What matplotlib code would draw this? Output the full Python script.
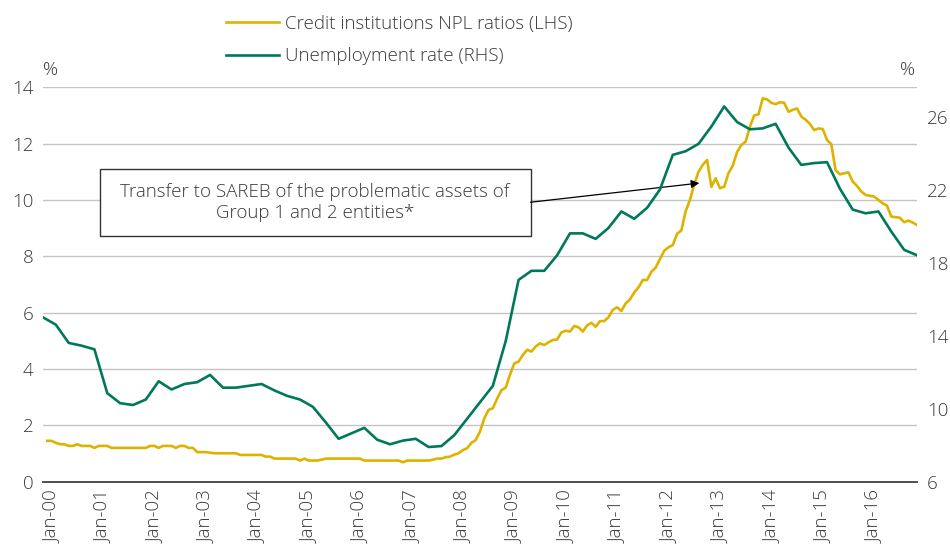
import numpy as np
import matplotlib
matplotlib.use('Agg')
import matplotlib.pyplot as plt
from matplotlib.patches import Rectangle

plt.rcParams['font.family'] = ['Open Sans', 'DejaVu Sans']
plt.rcParams['font.weight'] = 'light'

# x positions are months counted from Jan-00
year_labels = ['Jan-%02d' % y for y in range(0, 17)]

# credit institutions NPL ratio, monthly, %
npl_start = -1
npl = [
    1.45, 1.45, 1.38, 1.33, 1.33, 1.27, 1.27, 1.33, 1.27, 1.27, 1.27, 1.20,
    1.27, 1.27, 1.27, 1.20, 1.20, 1.20, 1.20, 1.20, 1.20, 1.20, 1.20, 1.20,
    1.27, 1.27, 1.20, 1.27, 1.27, 1.27, 1.20, 1.27, 1.27, 1.20, 1.20, 1.05,
    1.05, 1.05, 1.03, 1.01, 1.01, 1.01, 1.01, 1.01, 1.01, 0.95, 0.95, 0.95,
    0.95, 0.95, 0.95, 0.89, 0.89, 0.82, 0.82, 0.82, 0.82, 0.82, 0.82, 0.75,
    0.82, 0.75, 0.75, 0.75, 0.78, 0.82, 0.82, 0.82, 0.82, 0.82, 0.82, 0.82,
    0.82, 0.82, 0.75, 0.75, 0.75, 0.75, 0.75, 0.75, 0.75, 0.75, 0.75, 0.69,
    0.75, 0.75, 0.75, 0.75, 0.75, 0.75, 0.78, 0.82, 0.82, 0.87, 0.89, 0.96,
    1.01, 1.12, 1.19, 1.38, 1.48, 1.78, 2.25, 2.55, 2.61, 2.95, 3.25, 3.34,
    3.80, 4.20, 4.26, 4.50, 4.68, 4.62, 4.80, 4.91, 4.85, 4.95, 5.03, 5.05,
    5.30, 5.36, 5.33, 5.53, 5.48, 5.33, 5.55, 5.64, 5.50, 5.70, 5.70, 5.84,
    6.10, 6.19, 6.06, 6.33, 6.47, 6.72, 6.90, 7.16, 7.16, 7.45, 7.60, 7.90,
    8.20, 8.32, 8.40, 8.80, 8.92, 9.60, 10.00, 10.55, 11.00, 11.25, 11.42, 10.47,
    10.77, 10.42, 10.47, 10.95, 11.22, 11.70, 11.95, 12.07, 12.60, 13.00, 13.04, 13.61,
    13.57, 13.45, 13.40, 13.47, 13.45, 13.13, 13.20, 13.25, 12.96, 12.85, 12.70, 12.48,
    12.54, 12.52, 12.13, 11.98, 11.06, 10.91, 10.95, 10.98, 10.65, 10.50, 10.30, 10.18,
    10.15, 10.12, 10.00, 9.88, 9.80, 9.41, 9.39, 9.37, 9.21, 9.27, 9.20, 9.11,
]

# unemployment rate, quarterly, %
unemp_start = -2
unemp = [
    15.0, 14.6, 13.6, 13.45, 13.25, 10.85, 10.3, 10.2, 10.5, 11.5, 11.05, 11.35,
    11.45, 11.85, 11.15, 11.15, 11.25, 11.35, 11.0, 10.7, 10.5, 10.1, 9.25, 8.35,
    8.65, 8.95, 8.3, 8.05, 8.25, 8.35, 7.9, 7.95, 8.55, 9.45, 10.35, 11.25,
    13.7, 17.05, 17.55, 17.55, 18.4, 19.6, 19.6, 19.3, 19.9, 20.8, 20.4, 21.0,
    22.0, 23.9, 24.1, 24.5, 25.45, 26.55, 25.7, 25.3, 25.35, 25.6, 24.3, 23.35,
    23.45, 23.5, 22.05, 20.9, 20.7, 20.8, 19.7, 18.7, 18.4,
]

npl_x = npl_start + np.arange(len(npl))
unemp_x = unemp_start + 3 * np.arange(len(unemp))

yellow = '#DDB300'
green = '#00795A'
txt = '#3a3a3a'
fs = 13.5

fig = plt.figure(figsize=(9.5, 5.51), dpi=100)
ax = fig.add_axes([43 / 950, 1 - 481.7 / 551, 874 / 950, 394.4 / 551])
ax2 = ax.twinx()

l1, = ax.plot(npl_x, npl, color=yellow, lw=1.9, label='Credit institutions NPL ratios (LHS)', zorder=3)
l2, = ax2.plot(unemp_x, unemp, color=green, lw=1.9, label='Unemployment rate (RHS)', zorder=3)

ax.set_xlim(-2, 202)
ax.set_ylim(0, 14)
ax.set_yticks(np.arange(0, 15, 2))
ax2.set_ylim(6, 27.6)
ax2.set_yticks(np.arange(6, 27, 4))
ax.set_xticks(12 * np.arange(len(year_labels)))
ax.set_xticklabels(year_labels, rotation=90)

ax.grid(axis='y', color='#c4c4c4', lw=1)
ax.set_axisbelow(True)
for a in (ax, ax2):
    for s in ('top', 'right', 'left', 'bottom'):
        a.spines[s].set_visible(False)
    a.tick_params(length=0, labelsize=fs, labelcolor=txt)
ax.spines['bottom'].set_visible(True)
ax.spines['bottom'].set_color('#404040')
ax.spines['bottom'].set_linewidth(1.3)
ax.tick_params(axis='y', pad=7)
ax.tick_params(axis='x', pad=6)
ax2.tick_params(axis='y', pad=7)

ax.text(0.0, 1.045, '%', transform=ax.transAxes, fontsize=fs, color=txt, ha='left', va='center')
ax.text(0.998, 1.045, '%', transform=ax.transAxes, fontsize=fs, color=txt, ha='right', va='center')

# annotation box
ax.add_patch(Rectangle((11.2, 8.73), 100.6, 2.36, facecolor='white', edgecolor='#333333', lw=1, zorder=5))
ax.text(61.5, 9.91, 'Transfer to SAREB of the problematic assets of\nGroup 1 and 2 entities*',
        ha='center', va='center', fontsize=fs, color=txt, linespacing=1.15, zorder=6)
ax.annotate('', xy=(151.2, 10.6), xytext=(111.8, 9.92),
            arrowprops=dict(arrowstyle='-|>', color='black', lw=0.9, mutation_scale=12, shrinkA=0, shrinkB=0),
            zorder=6)

fig.legend(handles=[l1, l2], loc='upper left', bbox_to_anchor=(226 / 950, 1 - 15 / 551),
           frameon=False, fontsize=fs, handlelength=2.85, handletextpad=0.3,
           labelspacing=0.75, borderpad=0, borderaxespad=0, labelcolor=txt)

fig.savefig('out.png', dpi=100)
